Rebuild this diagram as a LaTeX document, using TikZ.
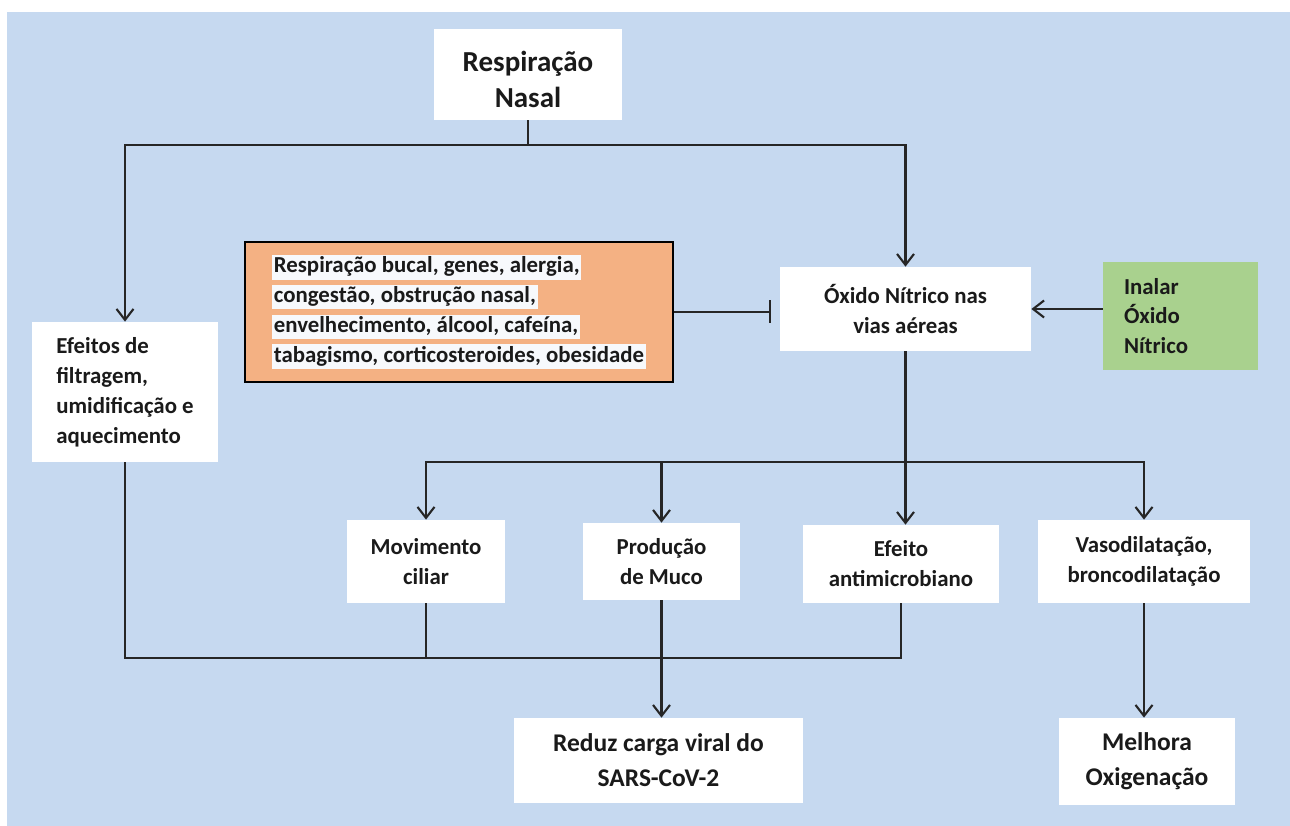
\documentclass[tikz,border=0pt]{standalone}
\usepackage{fontspec}
\setmainfont{Carlito}
\usepackage{xcolor}
\usetikzlibrary{arrows.meta}
\definecolor{fundo}{HTML}{C6D9F0}
\definecolor{laranja}{HTML}{F4B183}
\definecolor{verde}{HTML}{A9D18E}
\definecolor{realce}{HTML}{F7F9FC}
\definecolor{linha}{HTML}{262626}
\definecolor{texto}{HTML}{1A1A1A}
\setlength{\fboxsep}{1pt}
\newcommand{\realcar}[1]{\colorbox{realce}{\rule[-3pt]{0pt}{12pt}#1}}
\tikzset{
  caixa/.style={fill=white, text=texto, align=center, inner sep=2pt,
    font=\fontsize{13}{17}\selectfont\bfseries},
  maior/.style={font=\fontsize{14.5}{20}\selectfont\bfseries},
  seta/.style={draw=linha, line width=1.2pt, -{Straight Barb[length=2.2mm,width=3.4mm]}},
  liga/.style={draw=linha, line width=1.2pt},
  trava/.style={draw=linha, line width=1.2pt, -{Bar[width=4.6mm]}},
}

\begin{document}
\begin{tikzpicture}
            %area e fundo azul
            \useasboundingbox (0,0) rectangle (25.8,-16.52);
            \fill[fundo] (0.14,-0.24) rectangle (25.8,-16.52);
            %caixas do topo
            \node[caixa, minimum width=3.76cm, minimum height=1.82cm,
              font=\fontsize{16.5}{20.5}\selectfont\bfseries] (nasal) at (10.56,-1.49) {\rule{0pt}{0.62cm}Respiração\\Nasal};
            \node[caixa, fill=laranja, draw=black, line width=0.8pt, align=left,
              minimum width=8.56cm, minimum height=2.8cm] (fatores) at (9.18,-6.24)
              {\realcar{Respiração bucal, genes, alergia,}\\
               \realcar{congestão, obstrução nasal,}\\
               \realcar{envelhecimento, álcool, cafeína,}\\
               \realcar{tabagismo, corticosteroides, obesidade}};
            \node[caixa, minimum width=5.02cm, minimum height=1.68cm] (oxido) at (18.11,-6.18) {Óxido Nítrico nas\\vias aéreas};
            \node[caixa, fill=verde, align=left, inner sep=0pt, text width=2.26cm,
              minimum width=3.1cm, minimum height=2.16cm] (inalar) at (23.61,-6.32) {Inalar\\Óxido\\Nítrico};
            \node[caixa, align=left, minimum width=3.72cm, minimum height=2.8cm] (efeitos) at (2.5,-7.84)
              {Efeitos de\\filtragem,\\umidificação e\\aquecimento};
            %caixas do meio
            \node[caixa, minimum width=3.16cm, minimum height=1.66cm] (movimento) at (8.52,-11.23) {Movimento\\ciliar};
            \node[caixa, minimum width=3.14cm, minimum height=1.54cm] (producao) at (13.23,-11.23) {Produção\\de Muco};
            \node[caixa, minimum width=3.92cm, minimum height=1.56cm] (antimicro) at (18.02,-11.28) {Efeito\\antimicrobiano};
            \node[caixa, minimum width=4.24cm, minimum height=1.66cm] (vaso) at (22.88,-11.23) {Vasodilatação,\\broncodilatação};
            %caixas de baixo
            \node[caixa, maior, minimum width=5.78cm, minimum height=1.7cm] (reduz) at (13.17,-15.21) {Reduz carga viral do\\SARS-CoV-2};
            \node[caixa, maior, minimum width=3.52cm, minimum height=1.74cm] (melhora) at (22.94,-15.23) {Melhora\\Oxigenação};
            %pontos de juncao
            \coordinate (ramo) at (18.11,-9.24);
            \coordinate (juncao) at (13.23,-13.16);
            %ligacoes
            \draw[seta] (nasal.south) -- ++(0,-0.5) -| (efeitos.north);
            \draw[seta] (nasal.south) -- ++(0,-0.5) -| (oxido.north);
            \draw[trava, shorten >=0.18cm] (fatores.east) -- (fatores.east -| oxido.west);
            \draw[seta] (inalar.west |- oxido.east) -- (oxido.east);
            \draw[seta] (oxido.south) -- (oxido.south |- antimicro.north);
            \draw[seta] (ramo) -| (movimento.north);
            \draw[seta] (ramo) -| (producao.north);
            \draw[seta] (ramo) -| (vaso.north);
            \draw[liga] (efeitos.south) |- (juncao);
            \draw[liga] (movimento.south) |- (juncao);
            \draw[liga] (antimicro.south) |- (juncao);
            \draw[seta] (producao.south) -- (producao.south |- reduz.north);
            \draw[seta] (vaso.south) -- (vaso.south |- melhora.north);
        \end{tikzpicture}
\end{document}
